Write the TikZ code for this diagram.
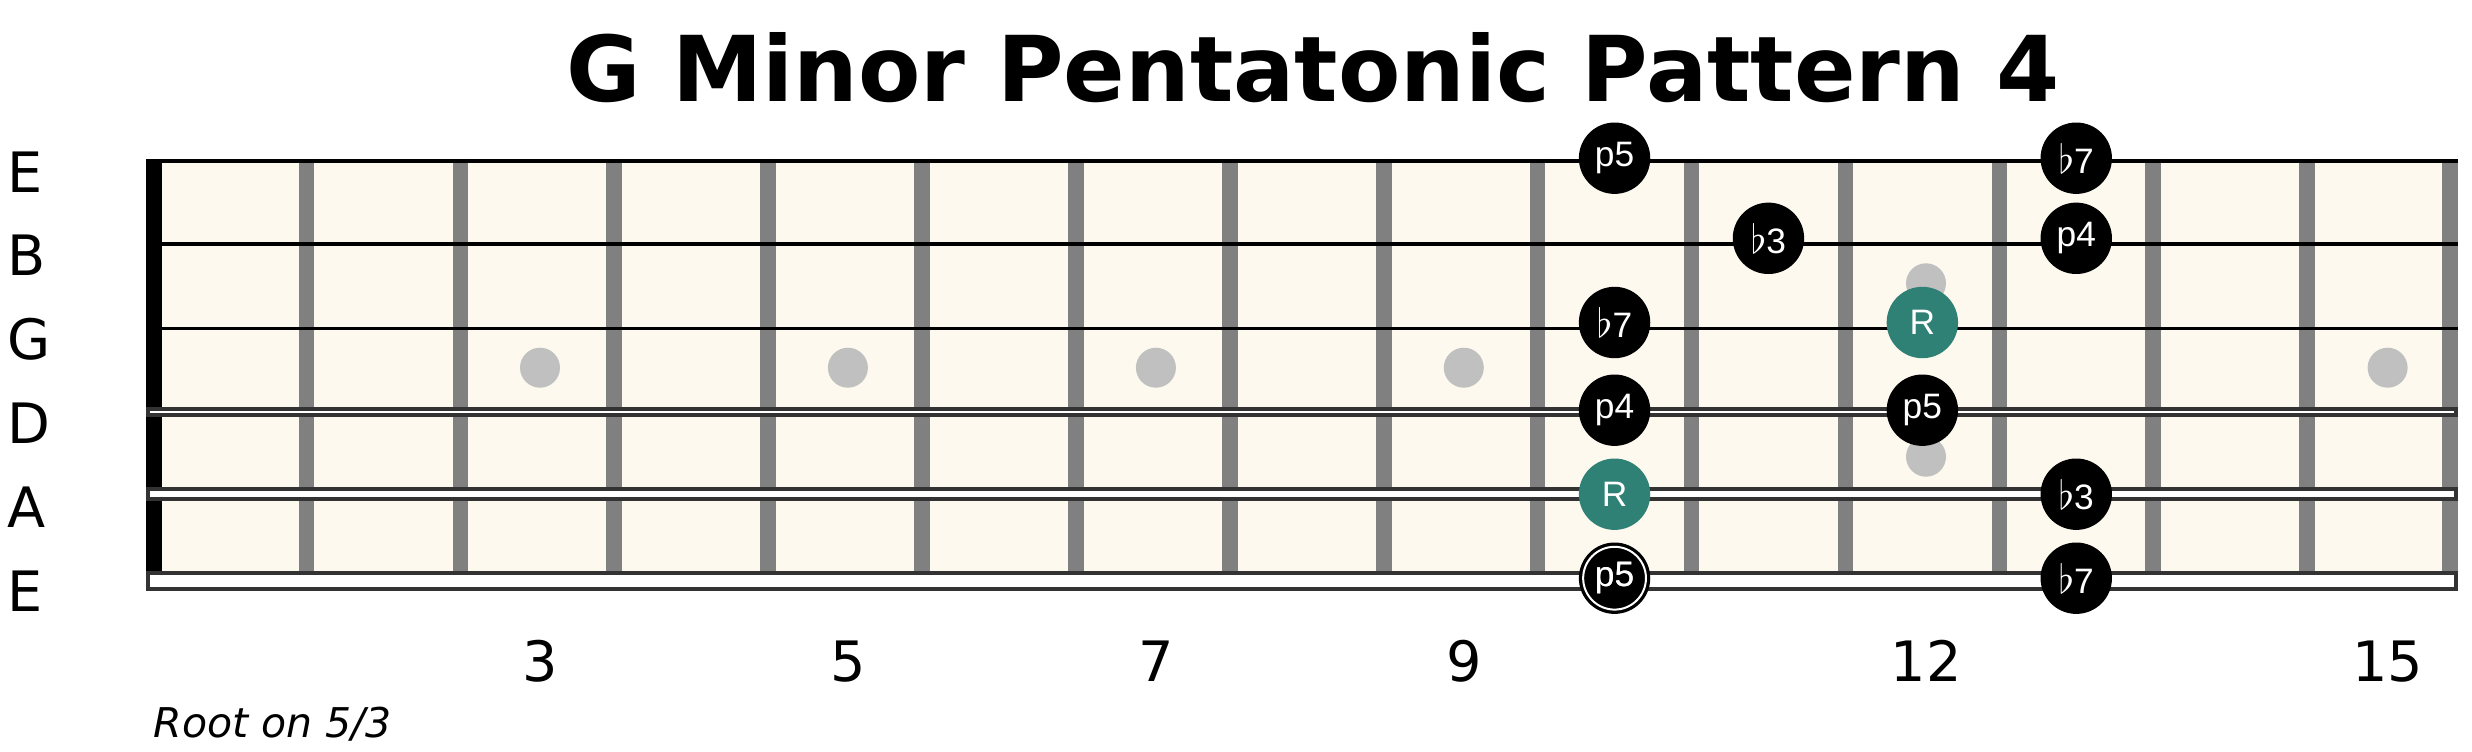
\documentclass[tikz,border=0pt]{standalone}
\usepackage{fontspec}
\usepackage{graphicx}
\setmainfont{DejaVu Sans}
\newfontfamily\notefont{Liberation Sans}
\definecolor{boardcol}{HTML}{FDF9EE}
\definecolor{rootcol}{HTML}{2F8075}
\definecolor{fretcol}{HTML}{808080}
\definecolor{inlaycol}{HTML}{C0C0C0}
\definecolor{woundcol}{HTML}{333333}
\newcommand\flt{\scalebox{1.1}{$\flat$}}
\tikzset{
  note/.style={circle, fill=black, minimum size=21.42pt, inner sep=0pt, text=white,
    font=\notefont\fontsize{10.6}{12}\selectfont},
  rootnote/.style={note, fill=rootcol},
  inlay/.style={circle, fill=inlaycol, minimum size=12pt, inner sep=0pt},
  fretwire/.style={draw=fretcol, line width=4.68pt},
  plainstring/.style={draw=black, line width=1.1pt},
  woundstring/.style={draw=woundcol, fill=white, line width=1.15pt},
  strlabel/.style={anchor=base west, inner sep=0pt, font=\fontsize{16.7}{18}\selectfont},
  fretnum/.style={anchor=base, inner sep=0pt, font=\fontsize{16.7}{18}\selectfont},
}
\begin{document}
\begin{tikzpicture}[x=0.3pt, y=-0.3pt]
\useasboundingbox (0,0) rectangle (2472,752);
% title
\node[anchor=base, inner sep=0pt, font=\bfseries\fontsize{27.25}{32}\selectfont] (title) at (1313,101) {G Minor Pentatonic Pattern 4};
% board
\fill[boardcol] (146,158.7) rectangle (2458,591);
% fret wires
\foreach \k in {1,...,14} {
  \draw[fretwire] ({152.5+153.9*\k},158.7) -- ({152.5+153.9*\k},591);
}
\draw[fretwire] (2450,158.7) -- (2450,591);
% inlays
\node[inlay] (i3) at (540,367.7) {};
\node[inlay] (i5) at (847.9,367.7) {};
\node[inlay] (i7) at (1155.9,367.7) {};
\node[inlay] (i9) at (1463.8,367.7) {};
\node[inlay] (i12a) at (1926,283.3) {};
\node[inlay] (i12b) at (1926,456.7) {};
\node[inlay] (i15) at (2387.6,367.7) {};
% nut
\fill[black] (146,158.7) rectangle (162,591);
% strings
\draw[plainstring] (146,160.7) -- (2458,160.7);
\draw[plainstring] (146,244.3) -- (2458,244.3);
\draw[plainstring] (146,328.5) -- (2458,328.5);
\draw[woundstring] (147.9,409.2) rectangle (2456.1,415.4);
\draw[woundstring] (147.9,488.6) rectangle (2456.1,498.8);
\draw[woundstring] (147.9,572.6) rectangle (2456.1,589.1);
% string labels
\node[strlabel] (l1) at (7,192) {E};
\node[strlabel] (l2) at (7,275.9) {B};
\node[strlabel] (l3) at (7,359.8) {G};
\node[strlabel] (l4) at (7,443.7) {D};
\node[strlabel] (l5) at (7,527.6) {A};
\node[strlabel] (l6) at (7,611.5) {E};
% fret numbers
\node[fretnum] (f3) at (540,681) {3};
\node[fretnum] (f5) at (847.9,681) {5};
\node[fretnum] (f7) at (1155.9,681) {7};
\node[fretnum] (f9) at (1463.8,681) {9};
\node[fretnum] (f12) at (1926,681) {12};
\node[fretnum] (f15) at (2387.6,681) {15};
% notes
\node[note] (n1a) at (1614.55,158.2) {p5};
\node[note] (n1b) at (2076.25,158.2) {\flt7};
\node[note] (n2a) at (1768.45,238.3) {\flt3};
\node[note] (n2b) at (2076.25,238.3) {p4};
\node[note] (n3a) at (1614.55,322.5) {\flt7};
\node[rootnote] (n3b) at (1922.35,322.5) {R};
\node[note] (n4a) at (1614.55,410.2) {p4};
\node[note] (n4b) at (1922.35,410.2) {p5};
\node[rootnote] (n5a) at (1614.55,494.2) {R};
\node[note] (n5b) at (2076.25,494.2) {\flt3};
\node[note] (n6a) at (1614.55,578.2) {p5};
\draw[white, line width=0.6pt] (n6a.center) circle[radius=9.42pt];
\node[note, fill=none] at (n6a.center) {p5};
\node[note] (n6b) at (2076.25,578.2) {\flt7};
% footnote
\node[anchor=base west, inner sep=0pt, font=\itshape\fontsize{12.3}{14}\selectfont] (foot) at (153,737) {Root on 5/3};
\end{tikzpicture}
\end{document}
